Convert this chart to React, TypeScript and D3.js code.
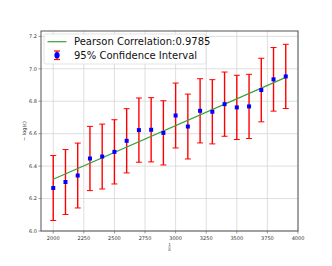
import React from "react";
import * as d3 from "d3";

// reciprocal step values on x
const xs = [2000, 2100, 2200, 2300, 2400, 2500, 2600, 2700, 2800, 2900, 3000, 3100, 3200, 3300, 3400, 3500, 3600, 3700, 3800, 3900];
// mean of -log(eps) for each x
const ys = [6.265, 6.302, 6.342, 6.447, 6.459, 6.488, 6.556, 6.622, 6.624, 6.605, 6.712, 6.644, 6.741, 6.735, 6.782, 6.762, 6.768, 6.869, 6.935, 6.953];
// 95% interval half width
const errs = [0.2, 0.2, 0.2, 0.198, 0.2, 0.198, 0.198, 0.198, 0.198, 0.198, 0.2, 0.2, 0.198, 0.198, 0.198, 0.198, 0.198, 0.196, 0.196, 0.198];
// fitted line ends
const fitX = [2000, 3900];
const fitY = [6.319, 6.947];

const xTicks = [2000, 2250, 2500, 2750, 3000, 3250, 3500, 3750, 4000];
const yTicks = [6.0, 6.2, 6.4, 6.6, 6.8, 7.0, 7.2];

const W = 332;
const H = 266;
const m = { left: 41, right: 34, top: 31, bottom: 35 };

export default function App() {
  const x = d3.scaleLinear().domain([1900, 4000]).range([m.left, W - m.right]);
  const y = d3.scaleLinear().domain([6.0, 7.233]).range([H - m.bottom, m.top]);
  const line = d3
    .line<number>()
    .x((d, i) => x(d))
    .y((d, i) => y(fitY[i]));

  const font = "DejaVu Sans, sans-serif";
  const grid = "#d6d6d6";

  return (
    <svg
      width={W}
      height={H}
      style={{ position: "absolute", left: 0, top: 0, background: "#fff" }}
      fontFamily={font}
    >
      {/* grid */}
      {xTicks.map((t) => (
        <line key={"gx" + t} x1={x(t)} x2={x(t)} y1={m.top} y2={H - m.bottom} stroke={grid} strokeWidth={0.8} />
      ))}
      {yTicks.map((t) => (
        <line key={"gy" + t} x1={m.left} x2={W - m.right} y1={y(t)} y2={y(t)} stroke={grid} strokeWidth={0.8} />
      ))}

      {/* error bars */}
      {xs.map((v, i) => (
        <g key={"e" + v} stroke="#ff0000" strokeWidth={1.4}>
          <line x1={x(v)} x2={x(v)} y1={y(ys[i] + errs[i])} y2={y(ys[i] - errs[i])} />
          <line x1={x(v) - 3} x2={x(v) + 3} y1={y(ys[i] + errs[i])} y2={y(ys[i] + errs[i])} strokeWidth={1} />
          <line x1={x(v) - 3} x2={x(v) + 3} y1={y(ys[i] - errs[i])} y2={y(ys[i] - errs[i])} strokeWidth={1} />
        </g>
      ))}

      {/* fit */}
      <path d={line(fitX) || ""} stroke="#3c9e3c" strokeWidth={1.2} fill="none" />

      {/* points */}
      {xs.map((v, i) => (
        <rect key={"p" + v} x={x(v) - 2} y={y(ys[i]) - 2} width={4} height={4} fill="#0000ff" />
      ))}

      {/* frame */}
      <rect x={m.left} y={m.top} width={W - m.left - m.right} height={H - m.top - m.bottom} fill="none" stroke="#555" strokeWidth={1} />

      {/* ticks */}
      {xTicks.map((t) => (
        <g key={"tx" + t}>
          <line x1={x(t)} x2={x(t)} y1={H - m.bottom} y2={H - m.bottom + 2.5} stroke="#555" strokeWidth={0.6} />
          <text x={x(t)} y={H - m.bottom + 9} fontSize={5} textAnchor="middle" fill="#333">
            {t}
          </text>
        </g>
      ))}
      {yTicks.map((t) => (
        <g key={"ty" + t}>
          <line x1={m.left - 2.5} x2={m.left} y1={y(t)} y2={y(t)} stroke="#555" strokeWidth={0.6} />
          <text x={m.left - 4} y={y(t) + 1.8} fontSize={5} textAnchor="end" fill="#333">
            {t.toFixed(1)}
          </text>
        </g>
      ))}

      {/* axis labels */}
      <text transform={`translate(26,${(m.top + H - m.bottom) / 2}) rotate(-90)`} fontSize={5} textAnchor="middle" fill="#333">
        − log(ε)
      </text>
      <g fill="#333" fontSize={4} textAnchor="middle">
        <text x={(m.left + W - m.right) / 2} y={H - m.bottom + 15}>1</text>
        <line x1={(m.left + W - m.right) / 2 - 1.5} x2={(m.left + W - m.right) / 2 + 1.5} y1={H - m.bottom + 16} y2={H - m.bottom + 16} stroke="#333" strokeWidth={0.4} />
        <text x={(m.left + W - m.right) / 2} y={H - m.bottom + 19.5}>δ</text>
      </g>

      {/* legend */}
      <g>
        <rect x={44} y={34} width={162} height={30} rx={2} fill="#fff" fillOpacity={0.85} stroke="#ddd" strokeWidth={0.8} />
        <line x1={47.5} x2={66.5} y1={41.7} y2={41.7} stroke="#3c9e3c" strokeWidth={1.2} />
        <text x={74} y={45.2} fontSize={10} fill="#111">Pearson Correlation:0.9785</text>
        <g stroke="#ff0000" strokeWidth={1.2}>
          <line x1={57} x2={57} y1={51} y2={59.5} />
          <line x1={54} x2={60} y1={51} y2={51} />
          <line x1={54} x2={60} y1={59.5} y2={59.5} />
        </g>
        <ellipse cx={57} cy={55.2} rx={2.6} ry={3.2} fill="#0000ff" />
        <text x={74} y={58.7} fontSize={10} fill="#111">95% Confidence Interval</text>
      </g>
    </svg>
  );
}
